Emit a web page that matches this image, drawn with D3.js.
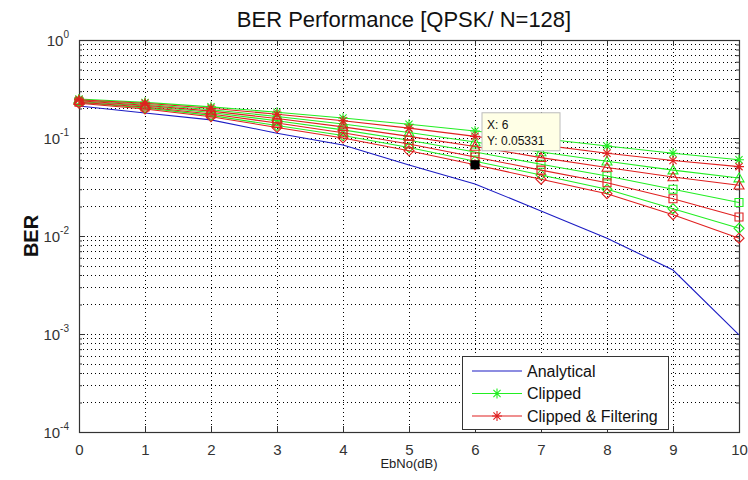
<!DOCTYPE html>
<html><head><meta charset="utf-8">
<script src="https://cdn.jsdelivr.net/npm/d3@7"></script>
<style>body{margin:0;background:#fff}svg{display:block}</style>
</head><body><svg id="c" width="748" height="480"></svg>
<script>
// ---- data ----
const ebno = [0,1,2,3,4,5,6,7,8,9,10];
const xTickValues = [0,1,2,3,4,5,6,7,8,9,10];
const yDecades = [1e-4,1e-3,1e-2,1e-1,1];
const yDecadeExps = ["-4","-3","-2","-1","0"];
const analytical = [0.212,0.180,0.153,0.112,0.085,0.053,0.034,0.018,0.0095,0.0045,0.00098];
// Clipped (green), four marker families
const clippedStar    = [0.250,0.231,0.208,0.183,0.160,0.138,0.118,0.099,0.083,0.070,0.060];
const clippedTri     = [0.244,0.221,0.194,0.166,0.139,0.114,0.091,0.072,0.058,0.047,0.039];
const clippedSquare  = [0.236,0.212,0.182,0.150,0.121,0.095,0.072,0.054,0.041,0.030,0.022];
const clippedDiamond = [0.230,0.203,0.170,0.134,0.106,0.080,0.058,0.042,0.030,0.019,0.012];
// Clipped & Filtering (red)
const filteredStar    = [0.246,0.226,0.201,0.175,0.150,0.126,0.104,0.085,0.070,0.059,0.051];
const filteredTri     = [0.240,0.216,0.188,0.158,0.130,0.104,0.082,0.063,0.050,0.040,0.033];
const filteredSquare  = [0.232,0.207,0.176,0.142,0.113,0.087,0.064,0.047,0.035,0.024,0.0156];
const filteredDiamond = [0.226,0.198,0.165,0.128,0.100,0.074,0.05331,0.038,0.027,0.0165,0.0095];
const legendLabels = ["Analytical","Clipped","Clipped & Filtering"];
const titleText = "BER Performance [QPSK/ N=128]";
const xLabelText = "EbNo(dB)";
const yLabelText = "BER";
const tipX = 6, tipY = 0.05331;

// ---- styles ----
const BLUE = "#1c1cc4", GREEN = "#22ee22", RED = "#e02020";
const FONT = "Arial, 'Liberation Sans', Helvetica, sans-serif";
const L = 79, R = 739, T = 40, B = 432;

const svg = d3.select("#c");
const x = d3.scaleLinear().domain([0,10]).range([L,R]);
const y = d3.scaleLog().domain([1e-4,1]).range([B,T]);

// grid
const allY = y.ticks();
const grid = svg.append("g").attr("stroke","#000").attr("stroke-width",1).attr("stroke-dasharray","1,3");
grid.selectAll("line.gy").data(allY.filter(v=>v>1e-4 && v<1)).join("line")
  .attr("x1",L).attr("x2",R).attr("y1",d=>Math.round(y(d))+0.5).attr("y2",d=>Math.round(y(d))+0.5);
grid.selectAll("line.gx").data(xTickValues.filter(v=>v>0&&v<10)).join("line")
  .attr("y1",T).attr("y2",B).attr("x1",d=>Math.round(x(d))+0.5).attr("x2",d=>Math.round(x(d))+0.5);

// axes (inward ticks, box)
const axB = svg.append("g").attr("transform",`translate(0,${B})`)
  .call(d3.axisBottom(x).tickValues(xTickValues).tickSize(-6).tickPadding(12).tickFormat(d3.format("d")));
const axT = svg.append("g").attr("transform",`translate(0,${T})`)
  .call(d3.axisTop(x).tickValues(xTickValues).tickSize(-6).tickFormat(""));
const axLmaj = svg.append("g").attr("transform",`translate(${L},0)`)
  .call(d3.axisLeft(y).tickValues(yDecades).tickSize(-6).tickFormat(""));
const axLmin = svg.append("g").attr("transform",`translate(${L},0)`)
  .call(d3.axisLeft(y).tickValues(allY).tickSize(-3).tickFormat(""));
const axRmaj = svg.append("g").attr("transform",`translate(${R},0)`)
  .call(d3.axisRight(y).tickValues(yDecades).tickSize(-6).tickFormat(""));
const axRmin = svg.append("g").attr("transform",`translate(${R},0)`)
  .call(d3.axisRight(y).tickValues(allY).tickSize(-3).tickFormat(""));
[axB,axT,axLmaj,axLmin,axRmaj,axRmin].forEach(g=>{
  g.selectAll(".domain").remove();
  g.selectAll("line").attr("stroke","#333");
});
axB.selectAll("text").attr("font-family",FONT).attr("font-size",15).attr("fill","#333");
svg.append("rect").attr("x",L+0.5).attr("y",T+0.5).attr("width",R-L).attr("height",B-T)
  .attr("fill","none").attr("stroke","#333").attr("stroke-width",1.2);

// y tick labels 10^k
const yl = svg.append("g").attr("font-family",FONT).attr("fill","#333");
yDecades.forEach((v,i)=>{
  const t = yl.append("text").attr("x",L-10).attr("y",y(v)+6).attr("text-anchor","end").attr("font-size",15);
  t.append("tspan").text("10");
  t.append("tspan").attr("dy",-8).attr("font-size",10).text(yDecadeExps[i]);
});

// markers
function markerPath(type, r){
  switch(type){
    case "star": {const a=0.72*r; return `M${-r},0L${r},0M0,${-r}L0,${r}M${-a},${-a}L${a},${a}M${-a},${a}L${a},${-a}`;}
    case "tri": return `M0,${-r}L${r},${0.75*r}L${-r},${0.75*r}Z`;
    case "square": return `M${-0.8*r},${-0.8*r}h${1.6*r}v${1.6*r}h${-1.6*r}Z`;
    case "diamond": return `M0,${-r}L${r},0L0,${r}L${-r},0Z`;
  }
}
const series = [
  {vals:clippedStar,color:GREEN,m:"star"},
  {vals:clippedTri,color:GREEN,m:"tri"},
  {vals:clippedSquare,color:GREEN,m:"square"},
  {vals:clippedDiamond,color:GREEN,m:"diamond"},
  {vals:filteredStar,color:RED,m:"star"},
  {vals:filteredTri,color:RED,m:"tri"},
  {vals:filteredSquare,color:RED,m:"square"},
  {vals:filteredDiamond,color:RED,m:"diamond"}
];
const line = d3.line().x((d,i)=>x(ebno[i])).y(d=>y(d));
const plot = svg.append("g");
plot.append("path").attr("d",line(analytical)).attr("fill","none").attr("stroke",BLUE).attr("stroke-width",1.1);
series.forEach(s=>{
  plot.append("path").attr("d",line(s.vals)).attr("fill","none").attr("stroke",s.color).attr("stroke-width",1.1);
  plot.selectAll(null).data(s.vals).join("path")
    .attr("transform",(d,i)=>`translate(${x(ebno[i])},${y(d)})`)
    .attr("d",markerPath(s.m,5)).attr("fill","none").attr("stroke",s.color).attr("stroke-width",1.1);
});

// data tip
const tx = x(tipX), ty = y(tipY);
svg.append("rect").attr("x",tx-4.5).attr("y",ty-4.5).attr("width",9).attr("height",9).attr("fill","#000");
const tip = svg.append("g").attr("transform",`translate(${tx+7},${ty-52})`);
tip.append("rect").attr("width",78).attr("height",38).attr("fill","#ffffe6").attr("stroke","#bbb").attr("stroke-width",1);
tip.append("text").attr("x",5).attr("y",16).attr("font-family",FONT).attr("font-size",12).attr("fill","#111").text(`X: ${tipX}`);
tip.append("text").attr("x",5).attr("y",32).attr("font-family",FONT).attr("font-size",12).attr("fill","#111").text(`Y: ${tipY}`);

// legend
const lg = svg.append("g").attr("transform","translate(462,356)");
lg.append("rect").attr("x",0.5).attr("y",0.5).attr("width",206).attr("height",73).attr("fill","#fff").attr("stroke","#333").attr("stroke-width",1);
const legendColors = [BLUE,GREEN,RED];
legendLabels.forEach((lab,i)=>{
  const cy = 15 + i*22.5;
  lg.append("line").attr("x1",10).attr("x2",60).attr("y1",cy).attr("y2",cy).attr("stroke",legendColors[i]).attr("stroke-width",1.1);
  if(i>0) lg.append("path").attr("transform",`translate(35,${cy})`).attr("d",markerPath("star",5)).attr("fill","none").attr("stroke",legendColors[i]).attr("stroke-width",1.1);
  lg.append("text").attr("x",65).attr("y",cy+5.5).attr("font-family",FONT).attr("font-size",16).attr("fill","#111").text(lab);
});

// titles
svg.append("text").attr("x",404).attr("y",27).attr("text-anchor","middle").attr("font-family",FONT).attr("font-size",22).attr("fill","#111").text(titleText);
svg.append("text").attr("x",(L+R)/2).attr("y",468).attr("text-anchor","middle").attr("font-family",FONT).attr("font-size",13).attr("fill","#222").text(xLabelText);
svg.append("text").attr("transform",`translate(38,${(T+B)/2}) rotate(-90)`).attr("text-anchor","middle").attr("font-family",FONT).attr("font-size",20).attr("font-weight","bold").attr("fill","#111").text(yLabelText);
</script></body></html>
